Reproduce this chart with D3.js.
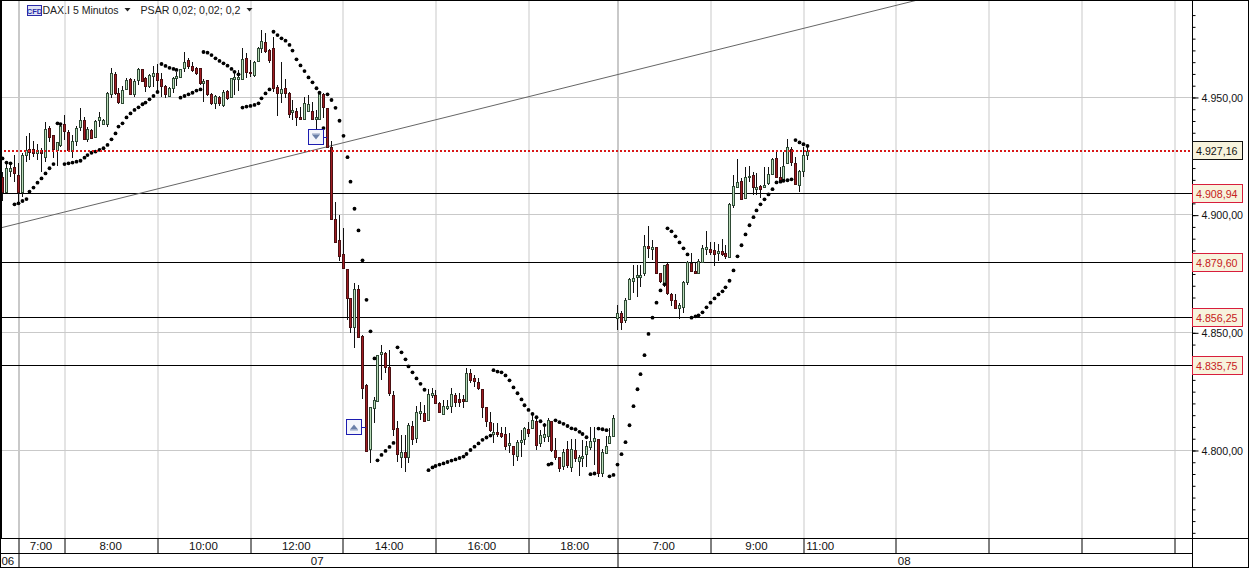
<!DOCTYPE html>
<html><head><meta charset="utf-8">
<script src="https://cdnjs.cloudflare.com/ajax/libs/d3/7.8.5/d3.min.js"></script>
<style>html,body{margin:0;padding:0;background:#fff}svg{display:block}text{font-family:"Liberation Sans",Arial,sans-serif}</style>
</head><body><svg id="c" width="1249" height="568"></svg>
<script>
const opens=[4916.1,4909.7,4918.7,4920.1,4916.8,4909.7,4925.3,4927.7,4927.7,4926.0,
4927.5,4924.6,4937.0,4933.8,4927.5,4929.6,4938.4,4935.2,4927.2,4931.4,
4937.4,4940.2,4932.0,4935.9,4933.1,4940.3,4938.5,4938.5,4951.3,4959.6,
4951.8,4947.6,4953.2,4957.5,4951.3,4957.2,4961.7,4957.9,4954.8,4959.0,
4960.0,4957.5,4954.8,4950.4,4953.7,4957.9,4958.3,4962.4,4965.7,4963.2,
4962.4,4962.4,4955.8,4957.2,4951.1,4947.6,4950.1,4946.6,4952.5,4949.8,
4957.5,4957.5,4957.5,4966.4,4960.7,4959.3,4965.4,4970.7,4973.5,4969.9,
4970.7,4954.4,4951.8,4953.7,4951.8,4943.5,4944.0,4941.6,4940.6,4944.2,
4944.2,4940.5,4940.8,4951.3,4945.2,4928.6,4898.0,4889.3,4883.3,4876.8,
4864.5,4852.4,4868.3,4848.6,4827.6,4800.3,4817.7,4821.0,4840.7,4841.1,
4835.1,4823.4,4809.2,4797.2,4799.0,4796.9,4810.2,4805.0,4815.6,4815.6,
4812.8,4823.5,4823.4,4820.1,4815.3,4817.7,4818.7,4823.4,4821.7,4821.7,
4820.7,4832.6,4830.5,4829.0,4825.8,4818.1,4812.1,4806.8,4807.5,4807.1,
4806.7,4802.3,4801.9,4797.6,4803.3,4804.5,4809.1,4809.2,4812.5,4802.8,
4805.7,4806.0,4812.3,4800.0,4796.9,4793.2,4800.3,4792.6,4800.0,4795.5,
4796.8,4798.2,4801.4,4804.0,4804.5,4790.4,4798.6,4803.1,4806.0,
4856.0,4858.4,4855.3,4864.0,4872.0,4873.4,4873.4,4875.1,4886.8,4885.3,4886.1,
4875.1,4871.1,4879.1,4866.3,4863.8,4860.2,4860.9,4871.5,4879.6,4876.2,
4875.1,4880.0,4885.3,4885.3,4885.0,4883.6,4884.4,4883.6,4881.9,4904.1,
4911.9,4914.3,4907.0,4915.9,4916.9,4910.8,4912.2,4911.8,4913.3,4917.2,
4924.0,4916.2,4914.5,4921.8,4927.8,4921.8,4912.6,4918.7,4925.2];
const closes=[4909.7,4919.7,4919.7,4917.5,4909.7,4925.3,4927.5,4926.6,4926.4,4927.5,
4926.0,4936.2,4932.8,4927.7,4930.7,4937.7,4935.7,4927.5,4931.3,4937.0,
4940.2,4932.0,4936.2,4932.7,4939.8,4941.3,4940.2,4951.8,4960.0,4951.5,
4948.0,4953.0,4957.2,4951.3,4956.8,4961.7,4956.9,4954.8,4959.3,4960.0,
4957.2,4954.8,4951.3,4953.7,4957.9,4958.9,4961.7,4965.0,4963.2,4961.5,
4960.3,4955.8,4956.8,4951.1,4947.6,4950.4,4947.3,4952.2,4949.4,4957.9,
4958.6,4958.3,4966.0,4960.7,4960.0,4964.7,4970.7,4973.9,4969.7,4965.7,
4953.7,4951.5,4953.2,4951.8,4942.6,4944.5,4941.6,4940.8,4947.3,4947.0,
4940.5,4941.3,4952.0,4945.9,4928.9,4898.1,4888.5,4882.6,4877.5,4864.5,
4852.4,4868.3,4848.2,4826.2,4799.6,4818.1,4821.3,4840.4,4841.7,4835.4,
4824.4,4808.8,4798.2,4799.0,4797.2,4810.6,4804.5,4816.0,4816.4,4812.5,
4823.7,4824.4,4820.1,4816.0,4818.7,4818.9,4823.8,4820.5,4820.5,4820.7,
4832.6,4829.8,4829.5,4826.2,4818.4,4812.5,4808.5,4807.8,4806.7,4806.0,
4801.9,4803.1,4798.2,4803.3,4804.3,4809.2,4807.4,4812.8,4802.1,4806.2,
4806.7,4812.8,4800.0,4796.9,4792.5,4799.2,4793.6,4800.3,4796.8,4797.2,
4797.6,4801.7,4804.0,4805.0,4790.4,4799.0,4801.7,4806.0,4813.5,
4858.1,4854.3,4863.8,4872.5,4873.0,4874.2,4874.2,4886.8,4885.7,4886.1,4875.4,
4872.0,4878.6,4866.9,4863.8,4860.5,4861.6,4871.5,4880.0,4876.2,4875.1,
4880.5,4885.7,4886.1,4884.0,4883.3,4884.4,4883.4,4882.5,4904.6,4912.2,
4913.8,4906.8,4915.9,4916.6,4911.9,4911.9,4910.8,4912.8,4917.2,4923.5,
4916.2,4914.0,4920.8,4928.6,4922.3,4912.9,4918.6,4925.4,4927.2];
const highs=[4918.2,4922.5,4921.8,4925.3,4921.8,4926.0,4933.4,4934.5,4931.4,4930.0,
4928.2,4939.5,4937.7,4933.8,4931.0,4938.8,4942.3,4935.9,4933.8,4937.7,
4945.2,4941.6,4937.1,4936.2,4940.2,4943.7,4940.5,4952.2,4962.2,4960.7,
4953.7,4954.7,4957.9,4957.9,4957.5,4962.2,4961.7,4958.3,4959.8,4963.2,
4964.0,4960.0,4955.1,4954.4,4958.6,4960.7,4961.7,4969.2,4966.4,4965.0,
4962.9,4962.4,4957.5,4957.2,4951.5,4950.8,4950.4,4953.0,4953.0,4957.9,
4960.7,4961.5,4970.7,4968.5,4965.7,4965.4,4971.4,4978.5,4977.0,4970.2,
4975.6,4955.1,4965.0,4957.5,4952.2,4948.7,4945.2,4945.6,4950.1,4950.8,
4948.0,4944.5,4952.2,4951.5,4945.2,4931.4,4905.3,4899.9,4894.2,4876.8,
4864.5,4870.8,4870.1,4848.9,4827.9,4818.1,4822.4,4840.4,4844.6,4841.8,
4842.5,4825.2,4812.5,4806.4,4806.4,4811.3,4812.3,4818.7,4820.5,4819.1,
4825.8,4826.2,4825.5,4820.5,4821.3,4821.3,4826.2,4824.1,4824.1,4823.4,
4834.7,4834.3,4831.9,4830.5,4825.8,4818.1,4816.3,4811.3,4811.3,4809.6,
4809.6,4807.1,4801.9,4804.3,4808.5,4809.9,4812.1,4815.9,4813.5,4808.5,
4811.3,4813.5,4812.3,4805.0,4797.2,4800.3,4804.0,4804.5,4804.5,4797.9,
4804.3,4804.0,4809.6,4809.9,4804.5,4800.3,4806.0,4809.2,4814.9,
4861.6,4859.1,4864.5,4873.0,4878.6,4878.6,4878.6,4891.4,4895.2,4889.3,4886.4,
4875.4,4878.6,4879.6,4866.6,4866.2,4862.3,4872.0,4880.3,4883.6,4880.0,
4881.0,4887.1,4893.1,4888.5,4888.5,4887.6,4889.5,4887.1,4904.8,4916.9,
4923.5,4915.5,4920.4,4920.7,4918.3,4917.6,4912.6,4920.1,4920.4,4924.0,
4926.8,4920.4,4926.8,4932.0,4928.6,4924.7,4919.0,4928.9,4928.6];
const lows=[4905.9,4909.5,4916.1,4914.0,4905.5,4907.6,4922.5,4923.2,4924.6,4923.2,
4918.2,4922.5,4931.0,4923.9,4920.7,4928.9,4931.7,4927.2,4923.9,4929.2,
4935.7,4931.7,4931.0,4932.3,4933.1,4937.4,4938.1,4937.4,4949.4,4950.8,
4947.0,4947.3,4953.0,4950.8,4950.1,4955.1,4956.5,4952.2,4953.7,4954.4,
4952.2,4950.1,4949.4,4949.8,4951.8,4954.7,4957.9,4960.7,4961.7,4960.7,
4959.3,4955.1,4948.0,4950.4,4946.6,4944.7,4946.2,4945.6,4948.7,4949.4,
4950.8,4952.7,4957.2,4957.9,4958.6,4958.6,4965.0,4968.5,4968.5,4964.3,
4952.2,4941.9,4947.3,4949.4,4940.9,4940.2,4937.7,4940.2,4940.2,4943.7,
4940.2,4935.9,4940.2,4940.9,4928.2,4897.7,4888.3,4880.3,4876.8,4855.3,
4849.9,4843.5,4848.2,4821.5,4799.0,4794.6,4811.6,4820.6,4829.8,4832.6,
4823.0,4806.0,4795.1,4792.2,4790.8,4794.4,4802.1,4803.1,4812.8,4812.5,
4812.8,4822.0,4819.8,4815.9,4814.9,4817.0,4815.6,4818.1,4818.4,4818.0,
4820.5,4828.3,4826.9,4825.5,4813.5,4809.9,4807.8,4802.8,4805.7,4805.0,
4800.0,4798.6,4793.4,4795.5,4796.9,4802.1,4805.7,4808.9,4800.0,4801.4,
4803.6,4803.6,4799.3,4795.8,4790.5,4791.5,4792.2,4790.5,4795.1,4789.1,
4792.6,4792.9,4800.0,4793.6,4788.4,4788.7,4798.3,4802.8,4805.7,
4851.0,4851.0,4853.8,4863.8,4866.6,4865.2,4869.1,4874.1,4881.5,4880.8,4874.8,
4871.1,4869.4,4865.9,4861.2,4860.2,4855.5,4858.4,4870.1,4875.8,4874.7,
4874.8,4879.6,4882.9,4882.9,4878.3,4880.5,4882.5,4881.0,4881.5,4902.7,
4911.6,4906.5,4906.7,4914.0,4908.4,4908.4,4907.0,4911.2,4912.6,4916.9,
4915.5,4913.6,4914.0,4921.4,4920.7,4912.6,4909.8,4916.2,4923.3];
const psar=[4923.9,4922.1,4921.8,4904.4,4904.8,4905.8,4906.6,4909.8,4911.5,4913.6,
4915.4,4917.5,4919.7,4921.5,4938.8,4938.5,4921.5,4921.8,4922.1,4922.5,
4922.9,4924.2,4925.3,4926.3,4926.8,4927.5,4928.2,4929.6,4932.0,4934.5,
4937.4,4938.8,4941.3,4943.0,4944.5,4945.6,4946.9,4947.6,4949.0,4950.4,
4952.1,4964.0,4963.2,4962.4,4961.9,4961.5,4949.7,4950.4,4951.1,4951.8,
4952.7,4953.2,4969.1,4968.8,4967.8,4966.4,4965.3,4964.3,4963.3,4961.9,
4960.7,4959.6,4945.5,4945.9,4946.2,4946.6,4947.3,4949.4,4951.5,4953.2,
4977.7,4976.3,4974.9,4973.9,4972.1,4969.7,4966.0,4963.4,4961.0,4958.3,
4956.2,4953.7,4951.8,4936.8,4951.1,4948.7,4945.4,4939.9,4933.5,4924.4,
4914.0,4902.5,4893.3,4880.6,4863.8,4850.4,4838.9,4795.6,4797.9,4799.6,
4801.3,4803.0,4843.6,4841.5,4838.5,4835.5,4833.0,4830.4,4828.1,4825.6,
4791.4,4792.6,4793.2,4793.8,4794.3,4794.9,4795.5,4796.0,4796.6,4797.2,
4798.3,4800.0,4801.4,4802.8,4804.3,4805.3,4806.1,4833.9,4833.3,4833.0,
4831.7,4829.6,4826.6,4824.1,4821.5,4819.0,4817.0,4815.3,4813.9,4812.2,
4810.6,4793.8,4794.2,4812.6,4811.8,4811.1,4810.2,4809.2,4808.8,4807.7,
4806.8,4805.4,4789.7,4790.0,4809.1,4808.8,4808.4,4788.8,4789.4,
4793.8,4798.2,4803.3,4810.5,4818.6,4825.8,4832.2,4840.3,4849.3,4856.2,4862.6,
4867.8,4870.4,4894.2,4892.9,4890.8,4888.2,4885.7,4883.1,4856.2,4856.8,
4857.2,4858.5,4860.6,4862.6,4864.4,4866.1,4867.4,4869.1,4871.9,4876.3,
4882.3,4887.0,4891.6,4895.5,4898.9,4901.8,4904.4,4906.5,4908.6,4910.8,
4913.7,4914.0,4914.4,4914.6,4915.0,4931.7,4930.7,4929.9,4929.2];

const priceTicks=[4950,4900,4850,4800];
const levels=[4908.94,4879.60,4856.25,4835.75];
const lastPrice=4927.16;
const trendBars=[-0.62,236.7];
const trendPrices=[4894.3,4991.2];
const gridBars=[4,16,40,64,88,112,136,159,183,207,231,255,279,303];
const timeLabels=["7:00","8:00","10:00","12:00","14:00","16:00","18:00","7:00","9:00","11:00"];
const timeLabelBars=[10,28,52,76,100,124,148,171,195,211.5];
const dateLabels=["06","07","08"];
const dateLabelBars=[1.4,81.4,233.2];
const dateBars=[4,159];
const markerBars=[84,94];
const markerPrices=[4933,4809.6];
const markerDirs=["down","up"];

const fmt=v=>d3.format(",.2f")(v).replace(/[.,]/g,m=>m==="."?",":".");
const svg=d3.select("#c");
const W=1249,H=568,axisX=1192,plotB=538;
const x=d3.scaleLinear().domain([0,208]).range([2.4,806.7]);
const y=d3.scaleLinear().domain([4991.2,4762.6]).range([0,plotB]);
const px=v=>Math.round(y(v)-0.35)+0.5;
const gx=i=>Math.round(x(i)+0.8);
const GRID="#c9c9c9";

const defs=svg.append("defs");
defs.append("clipPath").attr("id","p").append("rect").attr("x",0).attr("y",0).attr("width",axisX).attr("height",plotB);
const plot=svg.append("g").attr("clip-path","url(#p)");

// grid
plot.selectAll(".gv").data(gridBars).join("line").attr("x1",gx).attr("x2",gx).attr("y1",0).attr("y2",plotB)
 .attr("stroke",GRID).attr("stroke-width",d=>dateBars.includes(d)?2:1);
plot.selectAll(".gh").data(priceTicks).join("line").attr("x1",0).attr("x2",axisX).attr("y1",px).attr("y2",px).attr("stroke",GRID);

// levels
plot.selectAll(".lv").data(levels).join("line").attr("x1",0).attr("x2",axisX).attr("y1",px).attr("y2",px).attr("stroke","#000").attr("stroke-width",1);
// trend
plot.append("line").attr("x1",x(trendBars[0])).attr("x2",x(trendBars[1])).attr("y1",y(trendPrices[0])).attr("y2",y(trendPrices[1])).attr("stroke","#666").attr("stroke-width",1);

// candles
const bars=opens.map((o,i)=>({i,o,c:closes[i],h:highs[i],l:lows[i]}));
const cx=d=>Math.round(x(d.i));
plot.selectAll(".w").data(bars).join("line").attr("x1",d=>cx(d)+0.5).attr("x2",d=>cx(d)+0.5)
 .attr("y1",d=>Math.round(y(d.h))).attr("y2",d=>Math.round(y(d.l))).attr("stroke","#111");
plot.selectAll(".b").data(bars).join("rect")
 .attr("x",d=>cx(d)-0.5).attr("width",2)
 .attr("y",d=>Math.round(y(Math.max(d.o,d.c)))+0.5)
 .attr("height",d=>Math.max(1,Math.round(y(Math.min(d.o,d.c)))-Math.round(y(Math.max(d.o,d.c)))))
 .attr("fill",d=>d.c>=d.o?"#b9dcb9":"#a01c22").attr("stroke",d=>d.c>=d.o?"#2f4a35":"#4a1012").attr("stroke-width",1);

// PSAR
plot.selectAll(".d").data(psar).join("circle").attr("cx",(d,i)=>Math.round(x(i))+0.5).attr("cy",d=>y(d)).attr("r",1.9).attr("fill","#000");

// last price dotted
plot.append("line").attr("x1",0).attr("x2",axisX).attr("y1",Math.round(y(lastPrice))).attr("y2",Math.round(y(lastPrice)))
 .attr("stroke","#d81818").attr("stroke-width",2).attr("stroke-dasharray","2,2");

// markers
markerBars.forEach((b,k)=>{
 const mx=Math.round(x(b)), my=Math.round(y(markerPrices[k]));
 const gap=k===0?3:4, bx=mx-gap-15.5, by=my-7.5;
 const g=plot.append("g");
 g.append("line").attr("x1",bx+15).attr("x2",mx).attr("y1",my+.5).attr("y2",my+.5).attr("stroke","#1c1cb0");
 g.append("rect").attr("x",bx).attr("y",by).attr("width",15).attr("height",15).attr("fill","#f4f6fb").attr("stroke","#1c1cb0");
 const tx=bx+7.5,ty=by+7.5;
 const pts=markerDirs[k]==="down"?[[tx-4,ty-2.5],[tx+4,ty-2.5],[tx,ty+2.5]]:[[tx-4,ty+2.5],[tx+4,ty+2.5],[tx,ty-2.5]];
 g.append("polygon").attr("points",pts.join(" ")).attr("fill","#6a7fa8");
 g.append("line").attr("x1",tx-4).attr("x2",tx+4).attr("y1",markerDirs[k]==="down"?ty-3:ty+3).attr("y2",markerDirs[k]==="down"?ty-3:ty+3).attr("stroke","#8c9dc0");
});

// frame
const fr=svg.append("g").attr("stroke","#000").attr("stroke-width",1);
[[0.5,0.5,0.5,H-0.5],[1.5,0,1.5,plotB],[0,0.5,W,0.5],[axisX+.5,0,axisX+.5,H],[0,plotB+.5,W,plotB+.5],[0,553.5,axisX,553.5],[0,H-.5,W,H-.5],[W-.5,0,W-.5,H]]
 .forEach(a=>fr.append("line").attr("x1",a[0]).attr("y1",a[1]).attr("x2",a[2]).attr("y2",a[3]));
fr.selectAll(".tt").data(gridBars).join("line").attr("x1",gx).attr("x2",gx).attr("y1",plotB).attr("y2",553).attr("stroke","#000");
fr.selectAll(".dt").data(dateBars).join("line").attr("x1",gx).attr("x2",gx).attr("y1",553).attr("y2",H).attr("stroke","#000");

// time/date labels
const FS=11.5;
svg.selectAll(".tl").data(timeLabels).join("text").attr("x",(d,i)=>x(timeLabelBars[i])).attr("y",550).attr("text-anchor","middle")
 .attr("font-size",FS).attr("fill","#111").text(d=>d);
svg.selectAll(".dl").data(dateLabels).join("text").attr("x",(d,i)=>x(dateLabelBars[i])).attr("y",565).attr("text-anchor","middle")
 .attr("font-size",FS).attr("fill","#111").text(d=>d);

// price axis
const minor=d3.range(4765,4990,5);
const ax=d3.axisRight(y).tickValues(minor).tickSize(3).tickFormat("");
const ag=svg.append("g").attr("transform",`translate(${axisX+.5},0.5)`).call(ax);
ag.select(".domain").remove();
ag.selectAll("line").attr("stroke","#000");
const ax2=d3.axisRight(y).tickValues(priceTicks).tickSize(6).tickPadding(3).tickFormat(fmt);
const ag2=svg.append("g").attr("transform",`translate(${axisX+.5},0.5)`).call(ax2);
ag2.select(".domain").remove();
ag2.selectAll("line").attr("stroke","#000");
ag2.selectAll("text").attr("font-size",FS).attr("font-family","Liberation Sans").attr("fill","#111")
 .attr("textLength",41.5).attr("lengthAdjust","spacingAndGlyphs");

// value labels
const tag=(v,stroke,color,cy)=>{
 svg.append("rect").attr("x",axisX+.5).attr("y",cy-9).attr("width",50).attr("height",18).attr("fill","#f7f3dd").attr("stroke",stroke);
 svg.append("text").attr("x",axisX+4).attr("y",cy+4).attr("font-size",FS).attr("fill",color)
  .attr("textLength",41.5).attr("lengthAdjust","spacingAndGlyphs").text(fmt(v));
};
levels.forEach(v=>tag(v,"#d81e3c","#c62020",px(v)));
tag(lastPrice,"#111","#111",px(lastPrice));

// header
svg.append("rect").attr("x",27.5).attr("y",5.5).attr("width",14).attr("height",10).attr("fill","#dfe3f5").attr("stroke","#2a2aa8");
svg.append("text").attr("x",34.5).attr("y",13.5).attr("text-anchor","middle").attr("font-size",7.5).attr("font-weight","bold").attr("fill","#2a2aa8").text("CFD");
const hdr=(t,xp,len)=>svg.append("text").attr("x",xp).attr("y",14).attr("font-size",FS).attr("fill","#222")
 .attr("textLength",len).attr("lengthAdjust","spacingAndGlyphs").text(t);
hdr("DAX.I 5 Minutos",42.5,76); hdr("PSAR 0,02; 0,02; 0,2",140.5,100);
[127.5,249.5].forEach(cxx=>svg.append("polygon").attr("points",`${cxx-3},8 ${cxx+3},8 ${cxx},11.5`).attr("fill","#222"));
</script></body></html>
